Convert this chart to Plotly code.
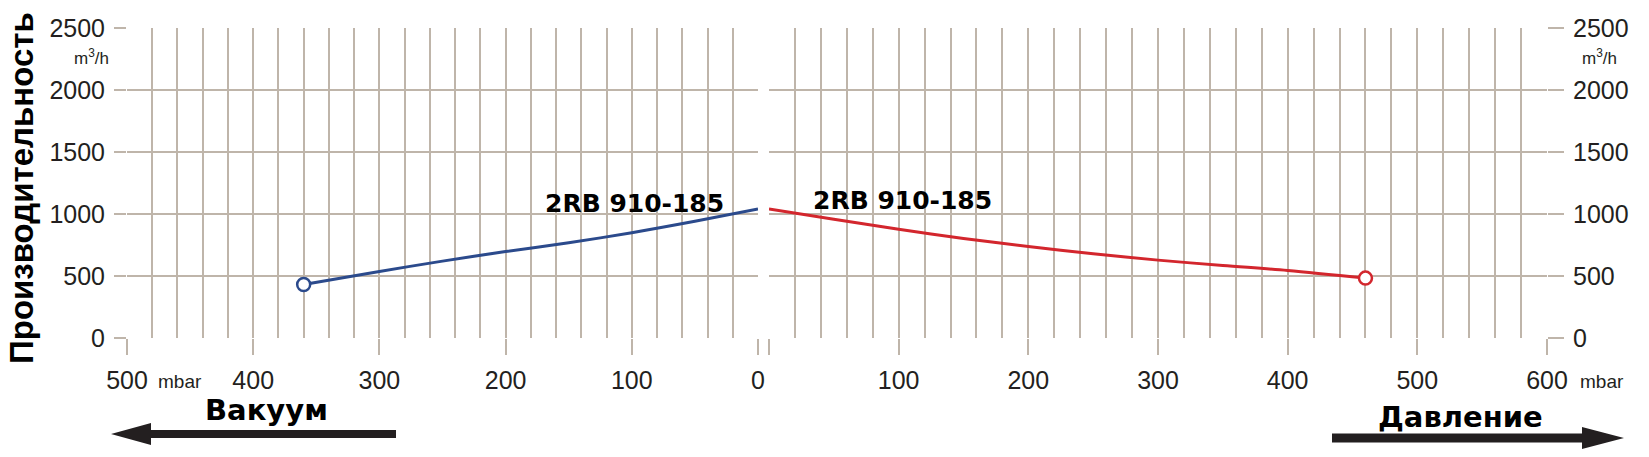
import plotly.graph_objects as go

# ---- data ----
vacuum_mbar = [0, 50, 100, 150, 200, 250, 300, 360]
vacuum_flow = [1040, 941, 849, 768, 697, 620, 537, 432]

pressure_mbar = [0, 50, 100, 150, 200, 250, 300, 350, 400, 460]
pressure_flow = [1040, 958, 877, 803, 738, 680, 628, 585, 545, 483]

model_name = "2RB 910-185"
y_ticks = [0, 500, 1000, 1500, 2000, 2500]
vac_ticks = [0, 100, 200, 300, 400, 500]
prs_ticks = [0, 100, 200, 300, 400, 500, 600]
prs_ticktext = ["", "100", "200", "300", "400", "500", "600"]

W, H = 1649, 457
L, R, T, B = 127, 102, 28, 119
PW, PH = W - L - R, H - T - B

def px(x):
    return (x - L) / PW

def py(y):
    return (H - B - y) / PH

GRID = "#bfb5aa"
TXT = "#231f20"
BLUE = "#2b4a8c"
RED = "#d3262d"
TICKFONT = dict(family="Liberation Sans, Arial", size=25, color=TXT)

fig = go.Figure()

fig.add_trace(go.Scatter(
    x=vacuum_mbar, y=vacuum_flow, xaxis="x", yaxis="y", mode="lines",
    line=dict(color=BLUE, width=3, shape="spline", smoothing=0.9), showlegend=False, hoverinfo="skip"))
fig.add_trace(go.Scatter(
    x=[vacuum_mbar[-1]], y=[vacuum_flow[-1]], xaxis="x", yaxis="y", mode="markers",
    marker=dict(size=13, color="white", line=dict(color=BLUE, width=2.5)),
    showlegend=False, hoverinfo="skip"))

fig.add_trace(go.Scatter(
    x=pressure_mbar, y=pressure_flow, xaxis="x2", yaxis="y2", mode="lines",
    line=dict(color=RED, width=3, shape="spline", smoothing=0.9), showlegend=False, hoverinfo="skip"))
fig.add_trace(go.Scatter(
    x=[pressure_mbar[-1]], y=[pressure_flow[-1]], xaxis="x2", yaxis="y2", mode="markers",
    marker=dict(size=13, color="white", line=dict(color=RED, width=2.5)),
    showlegend=False, hoverinfo="skip"))

split_l = px(758)
split_r = px(769)

common_x = dict(
    showgrid=True, gridcolor=GRID, gridwidth=2,
    ticks="outside", ticklen=16, tickwidth=2, tickcolor=GRID,
    minor=dict(dtick=20, showgrid=True, gridcolor=GRID, gridwidth=2, ticks=""),
    zeroline=False, showline=False, tickfont=TICKFONT, ticklabelstandoff=4,
)
common_y = dict(
    range=[0, 2500], tickvals=y_ticks,
    showgrid=True, gridcolor=GRID, gridwidth=2,
    ticks="outside", tickwidth=2, tickcolor=GRID,
    zeroline=False, showline=False, tickfont=TICKFONT, ticklabelstandoff=4,
)

fig.update_layout(
    width=W, height=H,
    margin=dict(l=L, r=R, t=T, b=B, pad=0),
    paper_bgcolor="white", plot_bgcolor="white",
    xaxis=dict(domain=[0, split_l], range=[500, 0], tickvals=vac_ticks, anchor="y", **common_x),
    xaxis2=dict(domain=[split_r, 1], range=[0, 600], tickvals=prs_ticks, ticktext=prs_ticktext,
                anchor="y2", **common_x),
    yaxis=dict(anchor="x", side="left", ticklen=12, **common_y),
    yaxis2=dict(anchor="x2", side="right", ticklen=16, **common_y),
)

ann = []
ann.append(dict(text="Производительность", textangle=-90, x=px(21), y=py(188),
                xref="paper", yref="paper", xanchor="center", yanchor="middle", showarrow=False,
                font=dict(family="Liberation Sans, Arial", size=33, color="black", weight="bold")))
small = dict(family="Liberation Sans, Arial", size=17, color=TXT)
ann.append(dict(text="m<sup>3</sup>/h", x=px(111), y=py(57), xref="paper", yref="paper",
                xanchor="right", yanchor="middle", showarrow=False, font=small))
ann.append(dict(text="m<sup>3</sup>/h", x=px(1580), y=py(57), xref="paper", yref="paper",
                xanchor="left", yanchor="middle", showarrow=False, font=small))
mb = dict(family="Liberation Sans, Arial", size=19, color=TXT)
ann.append(dict(text="mbar", x=px(156), y=py(381), xref="paper", yref="paper",
                xanchor="left", yanchor="middle", showarrow=False, font=mb))
ann.append(dict(text="mbar", x=px(1578), y=py(381), xref="paper", yref="paper",
                xanchor="left", yanchor="middle", showarrow=False, font=mb))
lbl = dict(family="DejaVu Sans", size=25, color="black", weight="bold")
ann.append(dict(text=model_name, x=98, y=1085, xref="x", yref="y",
                xanchor="center", yanchor="middle", showarrow=False, font=lbl))
ann.append(dict(text=model_name, x=103, y=1110, xref="x2", yref="y2",
                xanchor="center", yanchor="middle", showarrow=False, font=lbl))
big = dict(family="DejaVu Sans", size=29, color="black", weight="bold")
ann.append(dict(text="Вакуум", x=px(266), y=py(410), xref="paper", yref="paper",
                xanchor="center", yanchor="middle", showarrow=False, font=big))
ann.append(dict(text="Давление", x=px(1460), y=py(417), xref="paper", yref="paper",
                xanchor="center", yanchor="middle", showarrow=False, font=big))
fig.update_layout(annotations=ann)

def arrow_path(tail, tip, yc, shaft_h, head_len, head_h):
    d = 1 if tip > tail else -1
    hb = tip - d * head_len
    pts = [(tail, yc - shaft_h / 2), (hb, yc - shaft_h / 2), (hb, yc - head_h / 2),
           (tip, yc), (hb, yc + head_h / 2), (hb, yc + shaft_h / 2), (tail, yc + shaft_h / 2)]
    return "M " + " L ".join(f"{px(x):.5f},{py(y):.5f}" for x, y in pts) + " Z"

ARROW = "#231f20"
fig.add_shape(type="path", xref="paper", yref="paper",
              path=arrow_path(396, 111, 434, 8, 40, 22), fillcolor=ARROW, line=dict(width=0))
fig.add_shape(type="path", xref="paper", yref="paper",
              path=arrow_path(1332, 1624, 438, 9, 42, 22), fillcolor=ARROW, line=dict(width=0))

fig.write_html("out.html", config={"displayModeBar": False},
               post_script="document.body.style.margin='0';document.body.style.overflow='hidden';")
